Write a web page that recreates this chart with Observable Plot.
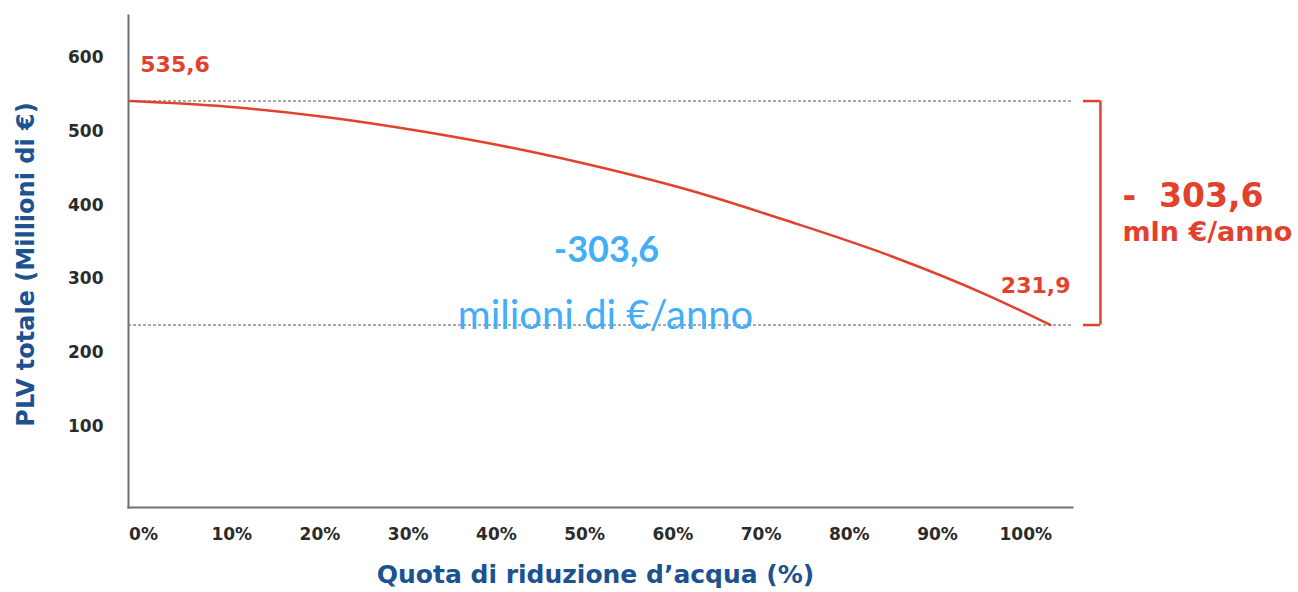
<!DOCTYPE html>
<html>
<head>
<meta charset="utf-8">
<script src="https://cdn.jsdelivr.net/npm/d3@7"></script>
<script src="https://cdn.jsdelivr.net/npm/@observablehq/plot@0.6"></script>
<style>
  html, body { margin: 0; padding: 0; background: #fff; }
  #chart svg { display: block; }
</style>
</head>
<body>
<div id="chart"></div>
<script>
// ---- data ----
const reductionPct = [-1.5, 9.3, 20.6, 32.0, 43.3, 50.7, 62.0, 73.4, 84.7, 96.0, 102.8];
const plvTotal     = [535.6, 528.2, 514.0, 493.6, 468.5, 448.9, 414.3, 371.6, 325.5, 270.5, 231.9];
const xTicks = [0, 10, 20, 30, 40, 50, 60, 70, 80, 90, 100];
const yTicks = [100, 200, 300, 400, 500, 600];
const endValueLabels = ["535,6", "231,9"];
const dropLabels = ["-\u00a0\u00a0303,6", "mln €/anno"];
const centerLabels = ["-303,6", "milioni di €/anno"];
const xTitle = "Quota di riduzione d’acqua (%)";
const yTitle = "PLV totale (Millioni di €)";

// ---- styles ----
const RED = "#e2412d";
const TITLE_BLUE = "#1c5290";
const LIGHT_BLUE = "#42aef7";
const AXIS_GREY = "#707070";
const TEXT_DARK = "#2b2b2b";

const rows = reductionPct.map((x, i) => ({x, y: plvTotal[i]}));
const first = rows[0];
const last = rows[rows.length - 1];
const mid = (first.y + last.y) / 2;

const chart = Plot.plot({
  width: 1298,
  height: 592,
  marginLeft: 128,
  marginRight: 226,
  marginTop: 15,
  marginBottom: 85,
  style: {fontFamily: "'DejaVu Sans', sans-serif", background: "#fff", overflow: "visible"},
  x: {domain: [-1.7, 105.3]},
  y: {domain: [-15.5, 651.6]},
  marks: [
    Plot.ruleY([first.y, last.y], {stroke: "#a9a9a9", strokeWidth: 2, strokeDasharray: "3,2"}),
    Plot.frame({anchor: "left", stroke: AXIS_GREY, strokeWidth: 2}),
    Plot.frame({anchor: "bottom", stroke: AXIS_GREY, strokeWidth: 2}),
    Plot.axisY({ticks: yTicks, tickSize: 0, tickPadding: 25, dy: 4, fontSize: 17, fontWeight: "bold", color: TEXT_DARK, label: null}),
    Plot.axisX({ticks: xTicks, tickFormat: d => d + "%", tickSize: 0, tickPadding: 20, fontSize: 17, fontWeight: "bold", color: TEXT_DARK, label: null}),
    Plot.line(rows, {x: "x", y: "y", stroke: RED, strokeWidth: 2.5, curve: "monotone-x"}),
    // end value labels
    Plot.text([{...first, label: endValueLabels[0]}], {x: "x", y: "y", text: "label", textAnchor: "start", dx: 10, dy: -36.5, fill: RED, fontSize: 22, fontWeight: "bold"}),
    Plot.text([{...last, label: endValueLabels[1]}], {x: "x", y: "y", text: "label", textAnchor: "end", dx: 20, dy: -39.5, fill: RED, fontSize: 22, fontWeight: "bold"}),
    // bracket
    Plot.ruleX([last], {x: "x", y1: () => first.y, y2: () => last.y, dx: 50, stroke: RED, strokeWidth: 2.5}),
    Plot.ruleY([first, last], {y: "y", x1: () => last.x, x2: () => last.x, insetLeft: 33, insetRight: -50, stroke: RED, strokeWidth: 2.5}),
    // drop labels
    Plot.text([dropLabels[0]], {x: () => last.x, y: () => mid, text: d => d, textAnchor: "start", dx: 72, dy: -17, fill: RED, fontSize: 33, fontWeight: "bold"}),
    Plot.text([dropLabels[1]], {x: () => last.x, y: () => mid, text: d => d, textAnchor: "start", dx: 72, dy: 19, fill: RED, fontSize: 27, fontWeight: "bold"}),
    // center annotation
    Plot.text([centerLabels[0]], {frameAnchor: "top-left", text: d => d, textAnchor: "middle", dx: 478, dy: 220.5, fill: LIGHT_BLUE, fontSize: 36, fontWeight: "bold", fontFamily: "Lato"}),
    Plot.text([centerLabels[1]], {frameAnchor: "top-left", text: d => d, textAnchor: "middle", dx: 477, dy: 285, fill: LIGHT_BLUE, fontSize: 40, fontFamily: "Lato"}),
    // axis titles
    Plot.text([yTitle], {frameAnchor: "left", text: d => d, rotate: -90, textAnchor: "middle", dx: -102, dy: 3, fill: TITLE_BLUE, fontSize: 24, fontWeight: "bold"}),
    Plot.text([xTitle], {frameAnchor: "bottom", text: d => d, textAnchor: "middle", dx: -5, dy: 75, fill: TITLE_BLUE, fontSize: 25, fontWeight: "bold"})
  ]
});
document.getElementById("chart").appendChild(chart);
</script>
</body>
</html>
